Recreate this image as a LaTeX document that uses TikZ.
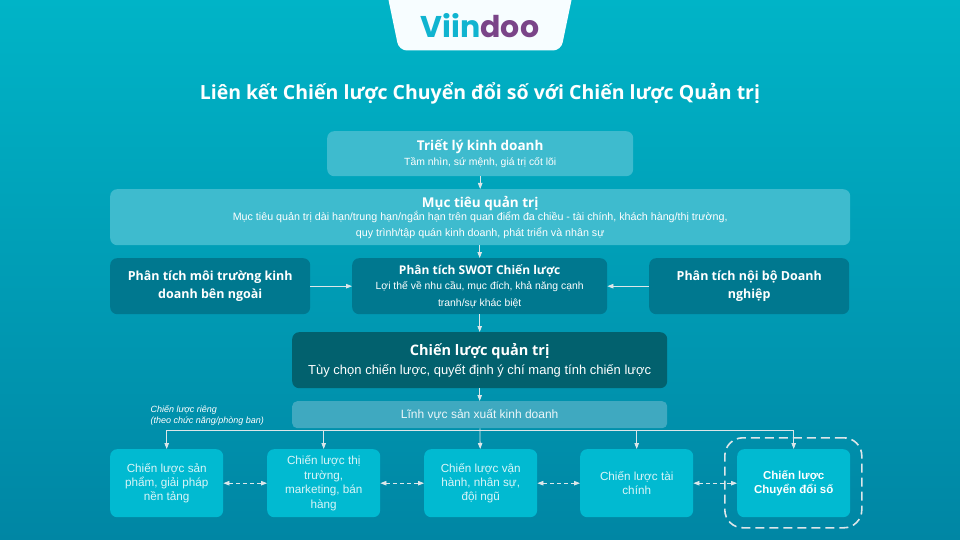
\documentclass[tikz,border=0pt]{standalone}
\usepackage{fontspec}
\setmainfont{Liberation Sans}
\newfontfamily\headfont{Open Sans}
\newfontfamily\logofont{Poppins}
\usetikzlibrary{arrows.meta,calc}
\definecolor{bgtop}{HTML}{00B4C7}
\definecolor{bgbot}{HTML}{0086A4}
\definecolor{lightbox}{HTML}{3EBBCE}
\definecolor{darkbox}{HTML}{00788F}
\definecolor{deepbox}{HTML}{02616E}
\definecolor{fieldbox}{HTML}{3FA9C0}
\definecolor{leafbox}{HTML}{01BAD1}
\definecolor{linkcol}{HTML}{DDE6E9}
\definecolor{vcyan}{HTML}{10B4D0}
\definecolor{vpurple}{HTML}{7A4488}
\tikzset{
  x=1pt,y=-1pt,
  boxbase/.style={rounded corners=7pt,inner sep=0pt,align=center,text=white,anchor=north west},
  lightnode/.style={boxbase,fill=lightbox},
  darknode/.style={boxbase,fill=darkbox},
  deepnode/.style={boxbase,fill=deepbox},
  fieldnode/.style={boxbase,fill=fieldbox,rounded corners=5pt},
  leafnode/.style={boxbase,fill=leafbox,font=\fontsize{11.7}{14.4}\selectfont,text=white!85!leafbox},
  link/.style={draw=linkcol,line width=0.8pt,-{Triangle[length=6pt,width=4.5pt]}},
  duallink/.style={draw=linkcol,line width=0.8pt,dash pattern=on 4pt off 3pt,{Triangle[length=6pt,width=4.5pt]}-{Triangle[length=6pt,width=4.5pt]}},
}
\newcommand{\hl}[2]{{\headfont\bfseries\fontsize{#1}{#1}\selectfont #2}}
\newcommand{\bl}[2]{{\fontsize{#1}{#1}\selectfont #2}}
\begin{document}
\begin{tikzpicture}
\useasboundingbox (0,0) rectangle (960,540);
\shade[top color=bgtop,bottom color=bgbot] (0,0) rectangle (960,540);
% logo tab
\fill[white!97!cyan,rounded corners=8pt] (386,-12) -- (399,50.5) -- (561,50.5) -- (574,-12) -- cycle;
\node[inner sep=0pt] (logo) at (480,26) {\logofont\bfseries\fontsize{30}{30}\selectfont\textcolor{vcyan}{Viin}\textcolor{vpurple}{doo}};
\node[inner sep=0pt,text=white] (title) at (480,93) {\headfont\bfseries\fontsize{19.5}{22}\selectfont Liên kết Chiến lược Chuyển đổi số với Chiến lược Quản trị};
% boxes
\node[lightnode,minimum width=306pt,minimum height=45pt] (triet) at (327,131) {\hl{13.5}{Triết lý kinh doanh}\\[3pt]\bl{10.4}{Tầm nhìn, sứ mệnh, giá trị cốt lõi}};
\node[lightnode,minimum width=740pt,minimum height=56pt] (muctieu) at (110,189) {\hl{13.5}{Mục tiêu quản trị}\\[0pt]\bl{10.7}{Mục tiêu quản trị dài hạn/trung hạn/ngắn hạn trên quan điểm đa chiều - tài chính, khách hàng/thị trường,}\\[3.5pt]\bl{10.7}{quy trình/tập quán kinh doanh, phát triển và nhân sự}};
\node[darknode,minimum width=200pt,minimum height=56pt] (ngoai) at (110,258) {\hl{12.5}{Phân tích môi trường kinh}\\[5pt]\hl{12.5}{doanh bên ngoài}};
\node[darknode,minimum width=255pt,minimum height=56pt] (swot) at (352,258) {\hl{12}{Phân tích SWOT Chiến lược}\\[3pt]\bl{10.4}{Lợi thế về nhu cầu, mục đích, khả năng cạnh}\\[5pt]\bl{10.4}{tranh/sự khác biệt}};
\node[darknode,minimum width=200pt,minimum height=56pt] (noibo) at (649,258) {\hl{12.5}{Phân tích nội bộ Doanh}\\[5pt]\hl{12.5}{nghiệp}};
\node[deepnode,minimum width=375pt,minimum height=56pt] (quantri) at (292,332) {\hl{14.5}{Chiến lược quản trị}\\[5pt]\bl{13}{Tùy chọn chiến lược, quyết định ý chí mang tính chiến lược}};
\node[fieldnode,minimum width=375pt,minimum height=27pt,font=\fontsize{12}{13}\selectfont,text=white!90!fieldbox] (linhvuc) at (292,401) {Lĩnh vực sản xuất kinh doanh};
\node[leafnode,minimum width=113pt,minimum height=68pt] (b1) at (110,449) {Chiến lược sản\\phẩm, giải pháp\\nền tảng};
\node[leafnode,minimum width=113pt,minimum height=68pt] (b2) at (267,449) {Chiến lược thị\\trường,\\marketing, bán\\hàng};
\node[leafnode,minimum width=113pt,minimum height=68pt] (b3) at (424,449) {Chiến lược vận\\hành, nhân sự,\\đội ngũ};
\node[leafnode,minimum width=113pt,minimum height=68pt] (b4) at (580,449) {Chiến lược tài\\chính};
\node[leafnode,minimum width=113pt,minimum height=68pt,font=\bfseries\fontsize{11.5}{14.3}\selectfont,text=white] (b5) at (737,449) {Chiến lược\\Chuyển đổi số};
\node[inner sep=0pt,align=left,anchor=north west,text=white,font=\itshape\fontsize{9}{11.5}\selectfont] (rieng) at (150.5,405) {Chiến lược riêng\\(theo chức năng/phòng ban)};
% highlight frame
\node[draw=linkcol,line width=1.6pt,dash pattern=on 9pt off 5pt,rounded corners=18pt,minimum width=137pt,minimum height=90pt,inner sep=0pt,anchor=north west] (frame) at (724,437) {};
% connectors
\draw[link] (triet) -- (muctieu);
\draw[link] (muctieu.south -| swot) -- (swot);
\draw[link] (swot) -- (quantri);
\draw[link] (quantri) -- (linhvuc);
\draw[link] (ngoai) -- (swot);
\draw[link] (noibo) -- (swot);
\coordinate (bus) at (480,430);
\draw[link] (linhvuc) -- (b3);
\draw[link] (bus) -| (b1.north);
\draw[link] (bus) -| (b2.north);
\draw[link] (bus) -| (b4.north);
\draw[link] (bus) -| (b5.north);
\draw[duallink] (b1) -- (b2);
\draw[duallink] (b2) -- (b3);
\draw[duallink] (b3) -- (b4);
\draw[duallink] (b4) -- (b5);
\end{tikzpicture}
\end{document}
